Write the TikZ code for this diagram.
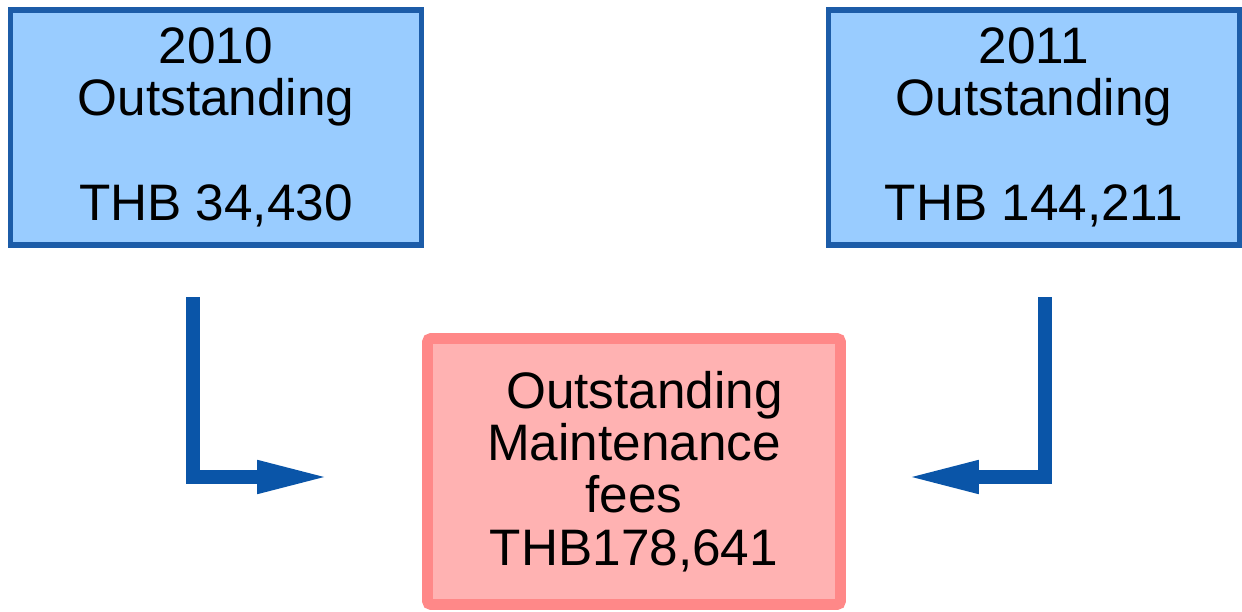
\documentclass[tikz,border=0pt]{standalone}
\usepackage{fontspec}
\setmainfont{Liberation Sans}
\usetikzlibrary{arrows.meta}
\definecolor{boxblue}{HTML}{99CCFF}
\definecolor{borderblue}{HTML}{1C5CA8}
\definecolor{arrowblue}{HTML}{0A55A8}
\definecolor{boxpink}{HTML}{FFB2B2}
\definecolor{borderpink}{HTML}{FF8888}
\tikzset{
  px/.style={x=0.02cm,y=-0.02cm},
  txt/.style={font=\fontsize{29.2pt}{29.8pt}\selectfont, align=center, inner sep=0pt},
  yearbox/.style={txt, draw=borderblue, fill=boxblue, line width=2.9pt,
    minimum width=8.22cm, minimum height=4.7cm},
  totalbox/.style={txt, draw=borderpink, fill=boxpink, line width=6.2pt,
    rounded corners=2pt, minimum width=8.26cm, minimum height=5.32cm},
  flow/.style={draw=arrowblue, line width=7.6pt, line join=miter,
    -{Triangle[length=42pt,width=17pt]}, arrowblue}
}
\begin{document}
\begin{tikzpicture}[px]
\useasboundingbox (0,0) rectangle (1242,612);
\node[yearbox] (y2010) at (216,127.5) {2010\\Outstanding\\ \\THB 34,430};
\node[yearbox] (y2011) at (1034,127.5) {2011\\Outstanding\\ \\THB 144,211};
\node[totalbox] (total) at (634,471.5) {\hspace*{12pt}Outstanding\\Maintenance\\fees\hspace*{6pt}\\THB178,641};
\coordinate (l1) at (193,297);
\coordinate (l2) at (331,477);
\coordinate (r1) at (1045,297);
\coordinate (r2) at (905,477);
\draw[flow] (l1) |- (l2);
\draw[flow] (r1) |- (r2);
\end{tikzpicture}
\end{document}
